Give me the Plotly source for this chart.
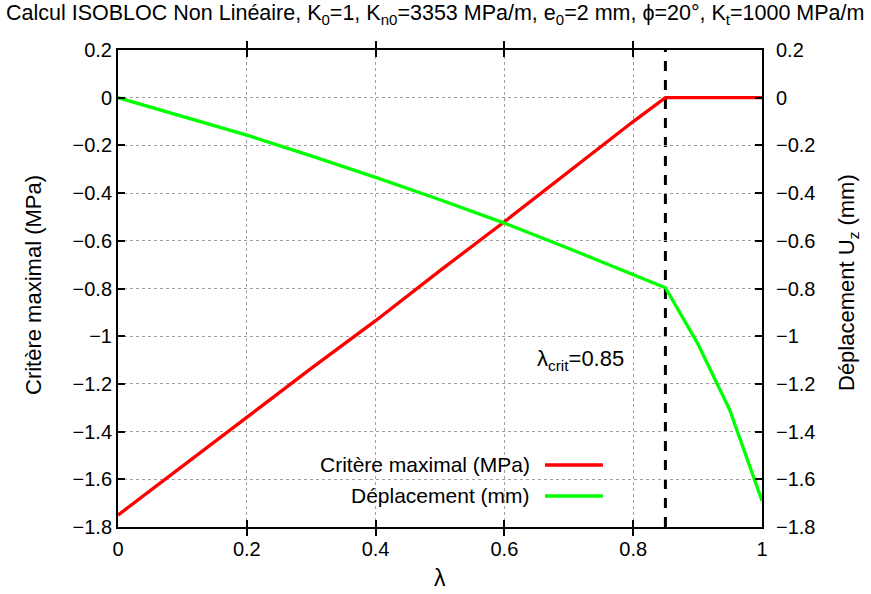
import plotly.graph_objects as go

# ---- data ----
lam_red = [0.0, 0.1, 0.2, 0.3, 0.4, 0.5, 0.6, 0.7, 0.8, 0.85, 0.9, 0.95, 1.0]
crit_red = [-1.75, -1.545, -1.343, -1.135, -0.935, -0.725, -0.52, -0.31, -0.10, 0.0, 0.0, 0.0, 0.0]

lam_green = [0.0, 0.1, 0.2, 0.3, 0.4, 0.5, 0.6, 0.7, 0.8, 0.85, 0.9, 0.95, 1.0]
depl_green = [0.0, -0.077, -0.157, -0.244, -0.334, -0.428, -0.526, -0.632, -0.743, -0.797,
              -1.03, -1.31, -1.69]

lambda_crit = 0.85

x_ticks = [0, 0.2, 0.4, 0.6, 0.8, 1]
x_ticklabels = ["0", "0.2", "0.4", "0.6", "0.8", "1"]
y_ticks = [0.2, 0, -0.2, -0.4, -0.6, -0.8, -1, -1.2, -1.4, -1.6, -1.8]
y_ticklabels = ["0.2", "0", "\u22120.2", "\u22120.4", "\u22120.6", "\u22120.8", "\u22121",
                "\u22121.2", "\u22121.4", "\u22121.6", "\u22121.8"]

title_text = ("Calcul ISOBLOC Non Linéaire, K<sub>0</sub>=1, K<sub>n0</sub>=3353 MPa/m, "
              "e<sub>0</sub>=2 mm, ϕ=20°, K<sub>t</sub>=1000 MPa/m")
xlabel = "λ"
ylabel_left = "Critère maximal (MPa)"
ylabel_right = "Déplacement U<sub>z</sub> (mm)"
name_red = "Critère maximal (MPa)"
name_green = "Déplacement (mm)"

RED = "#ff0000"
GREEN = "#00ff00"
FONT = "Liberation Sans, Arial, Helvetica, sans-serif"
FS = 20

W, H = 871, 594
ML, MR, MT, MB = 118, 109, 50, 67
PW, PH = W - ML - MR, H - MT - MB


def px_x(px):
    return (px - ML) / PW


def px_y(py):
    return 1 - (py - MT) / PH


fig = go.Figure()
fig.add_trace(go.Scatter(x=lam_red, y=crit_red, mode="lines", name=name_red,
                         line=dict(color=RED, width=3.3), showlegend=False))
fig.add_trace(go.Scatter(x=lam_green, y=depl_green, mode="lines", name=name_green,
                         line=dict(color=GREEN, width=3.3), showlegend=False))
# invisible trace to activate y2
fig.add_trace(go.Scatter(x=[lam_red[0]], y=[crit_red[0]], yaxis="y2", mode="lines",
                         line=dict(width=0), hoverinfo="skip", showlegend=False))

# critical lambda dashed line
fig.add_shape(type="line", xref="x", yref="paper", x0=lambda_crit, x1=lambda_crit, y0=0, y1=1,
              line=dict(color="black", width=3, dash="10px,9px"), layer="below")

# manual gnuplot-style legend (text left, sample right)
leg_items = [(name_red, RED, 0.130), (name_green, GREEN, 0.065)]
for txt, col, yp in leg_items:
    fig.add_annotation(x=0.643, y=yp, xref="paper", yref="paper", text=txt, showarrow=False,
                       xanchor="right", yanchor="middle", font=dict(size=21, color="black"))
    fig.add_shape(type="line", xref="paper", yref="paper", x0=0.663, x1=0.753, y0=yp, y1=yp,
                  line=dict(color=col, width=3.3))

fig.add_annotation(x=0.648, y=-1.1, xref="x", yref="y", text="λ<sub>crit</sub>=0.85",
                   showarrow=False, xanchor="left", yanchor="middle",
                   font=dict(size=22, color="black"))

# title and axis titles as annotations
fig.add_annotation(x=px_x(435), y=px_y(15), xref="paper", yref="paper",
                   text=title_text, showarrow=False, xanchor="center", yanchor="middle",
                   font=dict(size=21.5, color="black"))
fig.add_annotation(x=px_x(440), y=px_y(578), xref="paper", yref="paper",
                   text=xlabel, showarrow=False, xanchor="center", yanchor="middle",
                   font=dict(size=23, color="black"))
fig.add_annotation(x=px_x(33), y=px_y(285), xref="paper", yref="paper", textangle=-90,
                   text=ylabel_left, showarrow=False, xanchor="center", yanchor="middle",
                   font=dict(size=22, color="black"))
fig.add_annotation(x=px_x(848), y=px_y(283), xref="paper", yref="paper", textangle=-90,
                   text=ylabel_right, showarrow=False, xanchor="center", yanchor="middle",
                   font=dict(size=22, color="black"))

axis_common = dict(showline=True, linecolor="black", linewidth=2, ticks="inside", ticklen=7,
                   tickwidth=2, tickcolor="black", zeroline=False, automargin=False,
                   tickfont=dict(size=FS, color="black"))

fig.update_layout(
    width=W, height=H,
    margin=dict(l=ML, r=MR, t=MT, b=MB, pad=0),
    paper_bgcolor="white", plot_bgcolor="white",
    font=dict(family=FONT, size=FS, color="black"),
    xaxis=dict(range=[0, 1], tickvals=x_ticks, ticktext=x_ticklabels, mirror="allticks",
               showgrid=True, gridcolor="#a0a0a0", griddash="dot", gridwidth=1,
               ticklabelstandoff=3, **axis_common),
    yaxis=dict(range=[-1.8, 0.2], tickvals=y_ticks, ticktext=y_ticklabels,
               showgrid=True, gridcolor="#a0a0a0", griddash="dot", gridwidth=1,
               **axis_common),
    yaxis2=dict(range=[-1.8, 0.2], tickvals=y_ticks, ticktext=y_ticklabels, overlaying="y",
                side="right", showgrid=False, ticklabelstandoff=8, **axis_common),
)

fig.write_html("out.html", config={"displayModeBar": False},
               post_script="document.body.style.margin='0px';document.body.style.overflow='hidden';")
